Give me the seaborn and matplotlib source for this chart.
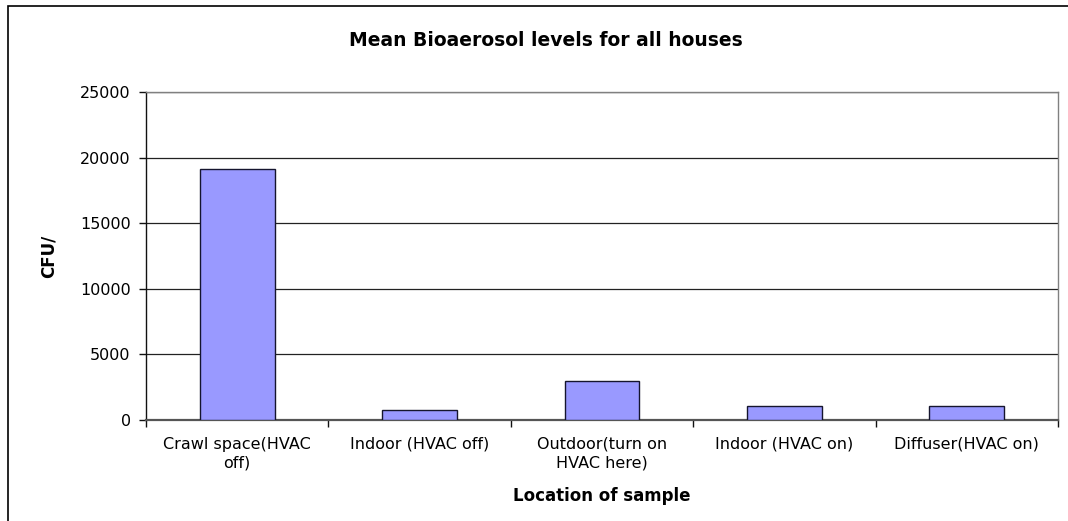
import matplotlib
matplotlib.use("Agg")
import matplotlib.pyplot as plt
import seaborn as sns
import pandas as pd
import numpy as np
from matplotlib.patches import Rectangle

locations = ["Crawl space(HVAC\noff)", "Indoor (HVAC off)", "Outdoor(turn on\nHVAC here)",
             "Indoor (HVAC on)", "Diffuser(HVAC on)"]
mean_cfu = [19100, 800, 3000, 1100, 1100]
y_ticks = [0, 5000, 10000, 15000, 20000, 25000]

sns.set_theme(style="white")
plt.rcParams["font.family"] = ["DejaVu Sans"]
plt.rcParams["text.color"] = "black"
plt.rcParams["axes.labelcolor"] = "black"
plt.rcParams["xtick.color"] = "black"
plt.rcParams["ytick.color"] = "black"

df = pd.DataFrame({"location": locations, "cfu": mean_cfu})

fig = plt.figure(figsize=(10.68, 5.21), dpi=100)
ax = fig.add_axes([146/1068, 1-420/521, (1058-146)/1068, (420-92)/521])

sns.barplot(data=df, x="location", y="cfu", ax=ax, color="#9999FF",
            saturation=1, width=0.41, edgecolor="#15152e", linewidth=1.0, zorder=3)

ax.set_ylim(0, 25000)
ax.set_xlim(-0.5, len(locations) - 0.5)
ax.set_yticks(y_ticks)
ax.set_yticklabels([str(v) for v in y_ticks], fontsize=11.5)
ax.yaxis.grid(True, color="#222222", linewidth=0.9, zorder=0)
ax.set_axisbelow(True)

# category boundary ticks on the x axis
ax.set_xticks(np.arange(-0.5, len(locations), 1.0), minor=True)
ax.tick_params(axis="x", which="major", bottom=True, length=0, pad=12, labelsize=11.5)
ax.tick_params(axis="x", which="minor", bottom=True, length=5, width=1,
               color="#111111", direction="out")
ax.tick_params(axis="y", which="major", left=True, length=5, width=1,
               color="#111111", direction="out", pad=6)
for lbl in ax.get_xticklabels():
    lbl.set_linespacing(1.3)

for side in ["top", "right"]:
    ax.spines[side].set_color("#808080")
    ax.spines[side].set_linewidth(1.0)
ax.spines["left"].set_color("#111111")
ax.spines["left"].set_linewidth(1.0)
ax.spines["bottom"].set_color("#555555")
ax.spines["bottom"].set_linewidth(1.6)

ax.set_xlabel("Location of sample", fontsize=12, fontweight="bold", labelpad=12)
ax.set_ylabel("CFU/", fontsize=12, fontweight="bold", labelpad=16)

fig.text(546/1068, 1-40/521, "Mean Bioaerosol levels for all houses",
         ha="center", va="center", fontsize=13.5, fontweight="bold")

# chart area frame
fig.patches.append(Rectangle((8/1068, -0.05), 1.2, 1-6/521+0.05, transform=fig.transFigure,
                             fill=False, edgecolor="black", linewidth=1.2))

fig.savefig("out.png", dpi=100)
